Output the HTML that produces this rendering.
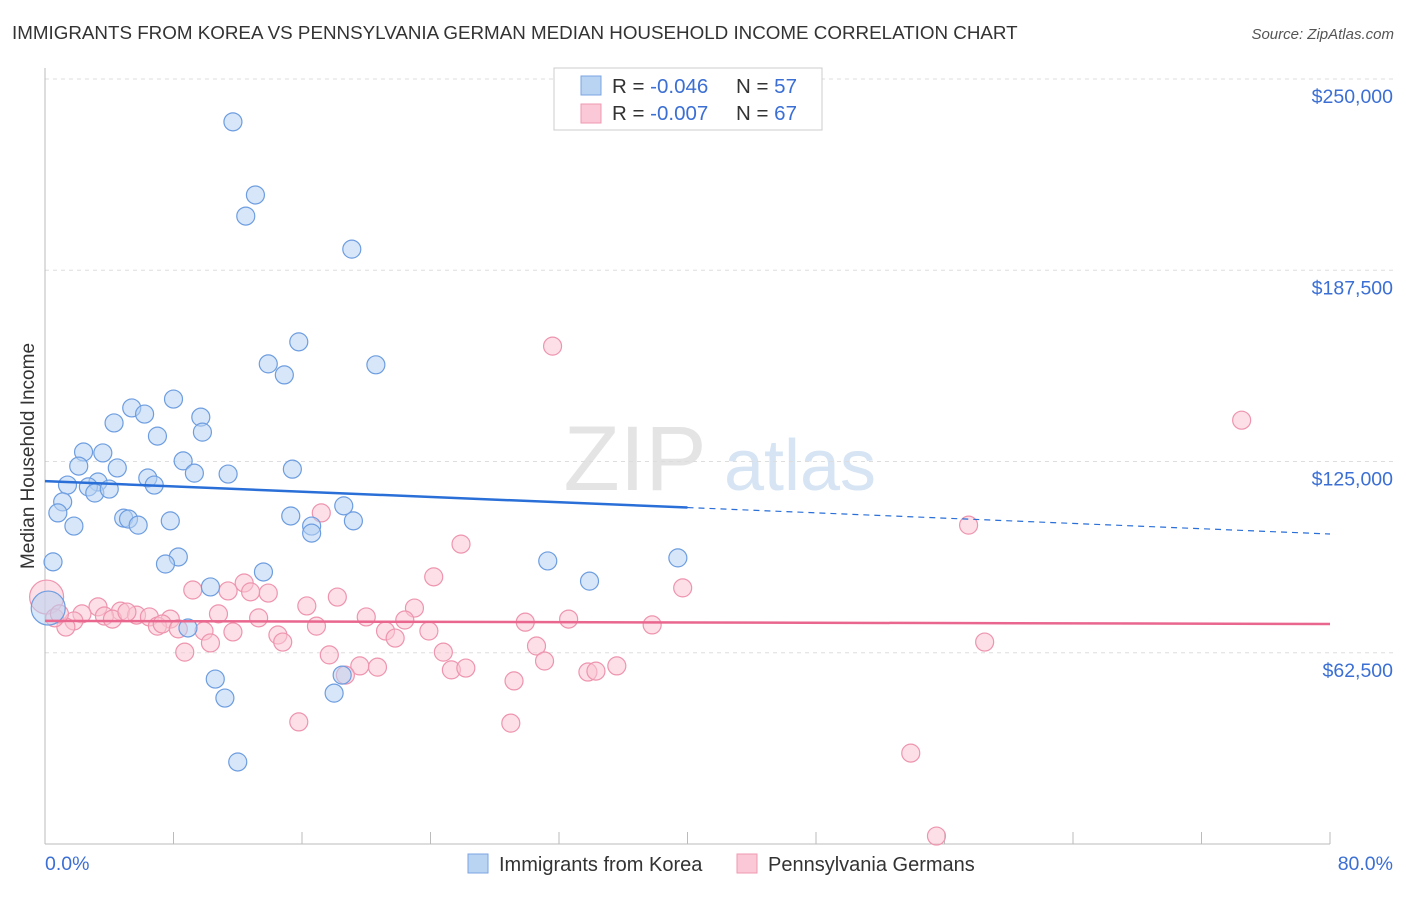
<!DOCTYPE html>
<html><head><meta charset="utf-8"><style>
body{margin:0;background:#fff;font-family:"Liberation Sans",sans-serif}
svg text{font-family:"Liberation Sans",sans-serif}
</style></head><body>
<svg id="chart" width="1406" height="892" xmlns="http://www.w3.org/2000/svg">
<text x="12" y="39" font-size="18.8" fill="#333">IMMIGRANTS FROM KOREA VS PENNSYLVANIA GERMAN MEDIAN HOUSEHOLD INCOME CORRELATION CHART</text>
<text x="1394" y="39" font-size="15" fill="#555" text-anchor="end" font-style="italic">Source: ZipAtlas.com</text>
<g>
<text x="635" y="490" font-size="92" fill="#e4e4e4" text-anchor="middle" font-family="Liberation Serif">ZIP</text>
<text x="800" y="490" font-size="72" fill="#d6e4f4" text-anchor="middle">atlas</text>
</g>
<g id="grid"></g>
<g id="axes"></g>
<g id="marks"></g>
<text transform="translate(34,456) rotate(-90)" font-size="19" fill="#333" text-anchor="middle">Median Household Income</text>
<text x="45" y="870" font-size="19.5" fill="#3b6fd4">0.0%</text>
<text x="1393" y="870" font-size="19.5" fill="#3b6fd4" text-anchor="end">80.0%</text>
<g>
<rect x="554" y="68" width="268" height="62" fill="#fff" stroke="#ccc"/>
<rect x="581" y="76" width="20" height="19" fill="#b9d3f3" stroke="#7aa5e0"/>
<rect x="581" y="104" width="20" height="19" fill="#fac8d6" stroke="#ef9ab2"/>
<text x="612" y="93" font-size="20.5" fill="#333">R = <tspan fill="#3b6fd4">-0.046</tspan></text>
<text x="736" y="93" font-size="20.5" fill="#333">N = <tspan fill="#3b6fd4">57</tspan></text>
<text x="612" y="120" font-size="20.5" fill="#333">R = <tspan fill="#3b6fd4">-0.007</tspan></text>
<text x="736" y="120" font-size="20.5" fill="#333">N = <tspan fill="#3b6fd4">67</tspan></text>
</g>
<g>
<rect x="468" y="854" width="20" height="19" fill="#b9d3f3" stroke="#7aa5e0"/>
<text x="499" y="871" font-size="20" fill="#333">Immigrants from Korea</text>
<rect x="737" y="854" width="20" height="19" fill="#fac8d6" stroke="#ef9ab2"/>
<text x="768" y="871" font-size="20" fill="#333">Pennsylvania Germans</text>
</g>
</svg>
<script>
const yTicks=[62500,125000,187500,250000];
const yTickLabels=["$62,500","$125,000","$187,500","$250,000"];
const xTicks=[0,8,16,24,32,40,48,56,64,72,80];
const koreaX=[11.7,13.1,12.5,19.1,15.8,13.9,14.9,20.6,8.0,5.4,6.2,4.3,9.7,9.8,7.0,2.4,3.6,2.1,4.5,8.6,9.3,11.4,15.4,6.4,6.8,1.4,3.3,2.7,3.1,4.0,1.1,0.8,1.8,4.9,5.2,5.8,7.8,15.3,16.6,16.6,19.2,18.6,0.5,8.3,7.5,13.6,31.3,39.4,10.3,33.9,8.9,0.2,10.6,11.2,18.5,18.0,12.0];
const koreaY=[236.0,212.1,205.2,194.4,164.1,156.9,153.3,156.6,145.4,142.5,140.5,137.6,139.5,134.6,133.3,128.1,127.8,123.5,122.9,125.2,121.2,120.9,122.5,119.6,117.3,117.3,118.3,116.7,114.7,116.0,111.8,108.2,103.9,106.5,106.2,104.2,105.6,107.2,103.9,101.6,105.6,110.5,92.2,93.8,91.5,88.9,92.5,93.5,84.0,85.9,70.6,77.1,53.9,47.7,55.2,49.3,26.8];
const paX=[31.6,74.5,57.5,17.2,25.9,24.2,39.7,12.4,13.9,9.2,12.8,18.2,11.4,16.3,23.0,3.3,2.3,4.7,3.7,5.7,4.2,6.5,7.8,10.8,13.3,20.0,22.4,29.9,32.6,37.8,1.8,1.3,7.0,7.3,8.3,9.9,11.7,16.9,21.2,23.9,14.5,14.8,21.8,30.6,10.3,8.7,24.8,17.7,31.1,19.6,20.7,25.3,26.2,18.7,33.8,34.3,35.6,58.5,29.2,15.8,29.0,53.9,55.5,0.1,0.6,0.9,5.1];
const paY=[162.7,138.5,104.2,108.2,98.0,87.3,83.7,85.3,82.0,83.0,82.4,80.7,82.7,77.8,77.1,77.5,75.2,76.1,74.5,74.8,73.5,74.2,73.5,75.2,73.9,74.2,73.2,72.5,73.5,71.6,72.9,70.9,71.2,71.9,70.3,69.6,69.3,71.2,69.6,69.6,68.3,66.0,67.3,64.7,65.7,62.7,62.7,61.8,59.8,58.2,57.8,56.9,57.5,55.2,56.2,56.5,58.2,66.0,53.3,39.9,39.5,29.7,2.6,80.7,73.9,75.2,75.8];
const koreaTrend=[118.6,101.3];
const paTrend=[72.9,71.9];
const NS="http://www.w3.org/2000/svg";
function sx(p){return 45+p/80*1285;}
function sy(k){return 844-k*1000/250000*765;}
function mk(tag,attrs,parent){const e=document.createElementNS(NS,tag);for(const k in attrs)e.setAttribute(k,attrs[k]);parent.appendChild(e);return e;}
const grid=document.getElementById('grid'),axes=document.getElementById('axes'),marks=document.getElementById('marks');
yTicks.forEach((v,i)=>{
 const y=sy(v/1000);
 const l=mk('line',{x1:45,x2:1393,y1:y,y2:y,stroke:'#ddd','stroke-dasharray':'4,4'},grid);
 
 
 const t=mk('text',{x:1393,y:y+24,'font-size':19.5,fill:'#3b6fd4','text-anchor':'end'},grid);
 t.textContent=yTickLabels[i];
 
 
});
const ya=mk('line',{x1:45,x2:45,y1:68,y2:844,stroke:'#bbb'},axes);


const xa=mk('line',{x1:45,x2:1330,y1:844,y2:844,stroke:'#bbb'},axes);


xTicks.forEach(v=>{
 const t=mk('line',{x1:sx(v),x2:sx(v),y1:832,y2:844,stroke:'#bbb'},axes);
 
 
});
function dots(xs,ys,fill,stroke,name){
 xs.forEach((x,i)=>{
  const big=(name==='korea-point'&&i===51)||(name==='pa-german-point'&&i===63);
  const c=mk('circle',{cx:sx(x),cy:sy(ys[i]),r:big?17:9,fill:fill,'fill-opacity':0.55,stroke:stroke,'stroke-width':1.2},marks);
  
  
 });
}
dots(paX,paY,'#f9c4d3','#ee94ae','pa-german-point');
dots(koreaX,koreaY,'#b7d1f3','#6d9de0','korea-point');
function lerp(a,b,t){return a+(b-a)*t;}
const kt1=mk('line',{x1:sx(0),y1:sy(koreaTrend[0]),x2:sx(40),y2:sy(lerp(koreaTrend[0],koreaTrend[1],0.5)),stroke:'#2a6fd8','stroke-width':2.5},marks);


const kt2=mk('line',{x1:sx(40),y1:sy(lerp(koreaTrend[0],koreaTrend[1],0.5)),x2:sx(80),y2:sy(koreaTrend[1]),stroke:'#2a6fd8','stroke-width':1.2,'stroke-dasharray':'6,5'},marks);


const pt=mk('line',{x1:sx(0),y1:sy(paTrend[0]),x2:sx(80),y2:sy(paTrend[1]),stroke:'#e9678f','stroke-width':2.5},marks);


</script>
</body></html>
